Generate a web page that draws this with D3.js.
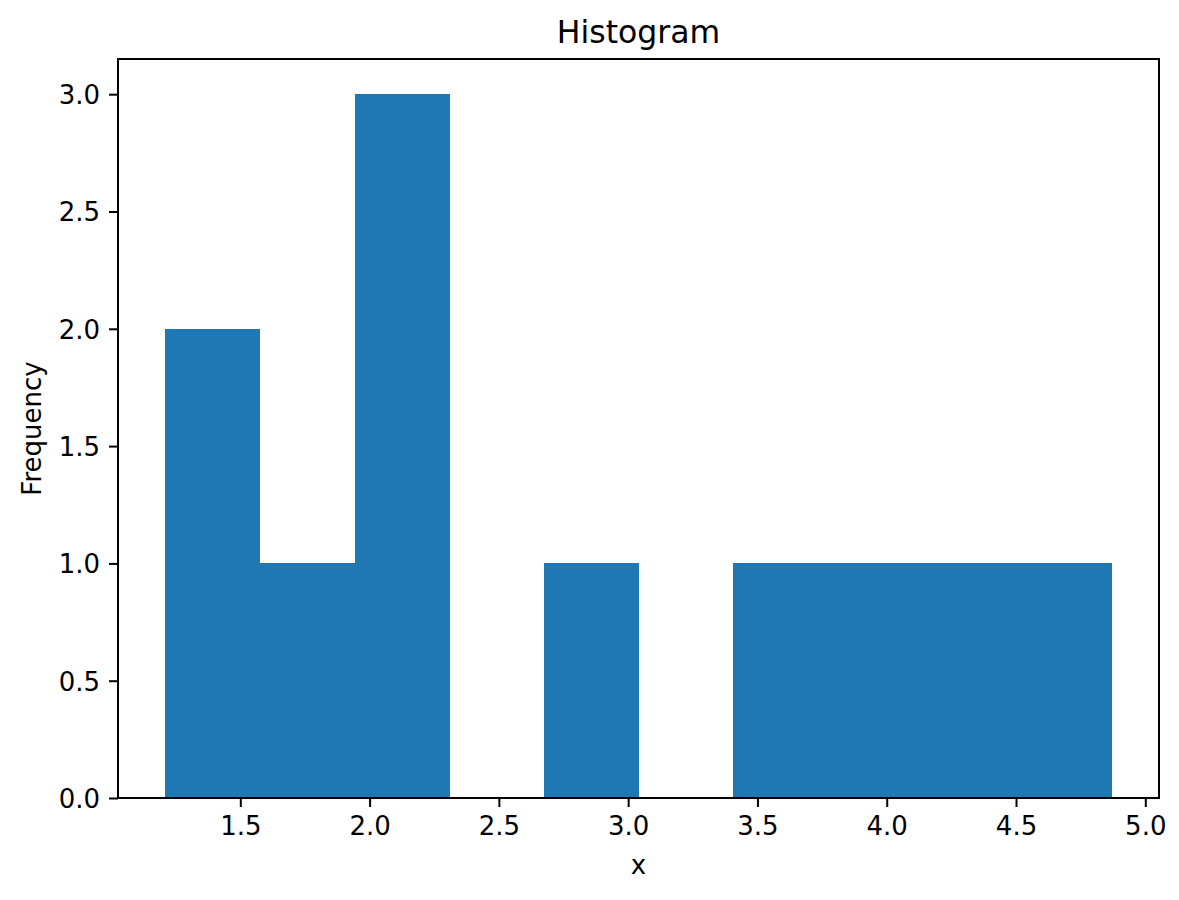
<!DOCTYPE html>
<html>
<head>
<meta charset="utf-8">
<script src="https://cdn.jsdelivr.net/npm/d3@7.9.0/dist/d3.min.js"></script>
<style>
  body { margin: 0; background: #fff; }
  svg { font-family: 'DejaVu Sans', sans-serif; }
</style>
</head>
<body>
<svg id="chart" width="1179" height="900"></svg>
<script>
// histogram bins
const binEdges = [1.21, 1.576, 1.942, 2.308, 2.674, 3.04, 3.406, 3.772, 4.138, 4.504, 4.87];
const counts = [2, 1, 3, 0, 1, 0, 1, 1, 1, 1];
const xTicks = [1.5, 2.0, 2.5, 3.0, 3.5, 4.0, 4.5, 5.0];
const yTicks = [0, 0.5, 1.0, 1.5, 2.0, 2.5, 3.0];

const bins = counts.map((c, i) => ({ x0: binEdges[i], x1: binEdges[i + 1], count: c }));

const margin = { left: 118, right: 1159, top: 59, bottom: 798 };
const svg = d3.select('#chart');

// matplotlib-style 5% margin on x, top margin on y
let lo = binEdges[0], hi = binEdges[binEdges.length - 1];
let pad = (hi - lo) * 0.05;
let x = d3.scaleLinear().domain([lo - pad, hi + pad]).range([margin.left, margin.right]);
let yMax = d3.max(counts);
let y = d3.scaleLinear().domain([0, yMax * 1.05]).range([margin.bottom, margin.top]);

svg.append('g')
  .attr('shape-rendering', 'crispEdges')
  .selectAll('rect')
  .data(bins.filter(d => d.count > 0))
  .join('rect')
  .attr('x', d => x(d.x0))
  .attr('width', d => x(d.x1) - x(d.x0) + 0.5)
  .attr('y', d => y(d.count))
  .attr('height', d => y(0) - y(d.count))
  .attr('fill', '#1f77b4');

let xAxis = svg.append('g')
  .attr('transform', `translate(0,${margin.bottom})`)
  .call(d3.axisBottom(x).tickValues(xTicks).tickFormat(d3.format('.1f')).tickSize(9).tickPadding(9).tickSizeOuter(0));

let yAxis = svg.append('g')
  .attr('transform', `translate(${margin.left},0)`)
  .call(d3.axisLeft(y).tickValues(yTicks).tickFormat(d3.format('.1f')).tickSize(9).tickPadding(9).tickSizeOuter(0));

[xAxis, yAxis].forEach(g => {
  g.select('.domain').remove();
  g.selectAll('.tick line').attr('stroke', '#000').attr('stroke-width', 2);
  g.selectAll('.tick text').attr('fill', '#000').style('font-size', '26px').style('font-family', 'DejaVu Sans');
});
yAxis.selectAll('.tick text').attr('dy', '0.36em');
xAxis.selectAll('.tick text').attr('dy', '0.72em');

// spines
svg.append('rect')
  .attr('x', margin.left)
  .attr('y', margin.top)
  .attr('width', margin.right - margin.left)
  .attr('height', margin.bottom - margin.top)
  .attr('fill', 'none')
  .attr('stroke', '#000')
  .attr('stroke-width', 2);

svg.append('text')
  .attr('x', (margin.left + margin.right) / 2)
  .attr('y', 43)
  .attr('text-anchor', 'middle')
  .style('font-size', '31.5px')
  .text('Histogram');

svg.append('text')
  .attr('x', (margin.left + margin.right) / 2)
  .attr('y', 874)
  .attr('text-anchor', 'middle')
  .style('font-size', '26px')
  .text('x');

svg.append('text')
  .attr('transform', `translate(41,${(margin.top + margin.bottom) / 2}) rotate(-90)`)
  .attr('text-anchor', 'middle')
  .style('font-size', '26px')
  .text('Frequency');
</script>
</body>
</html>
